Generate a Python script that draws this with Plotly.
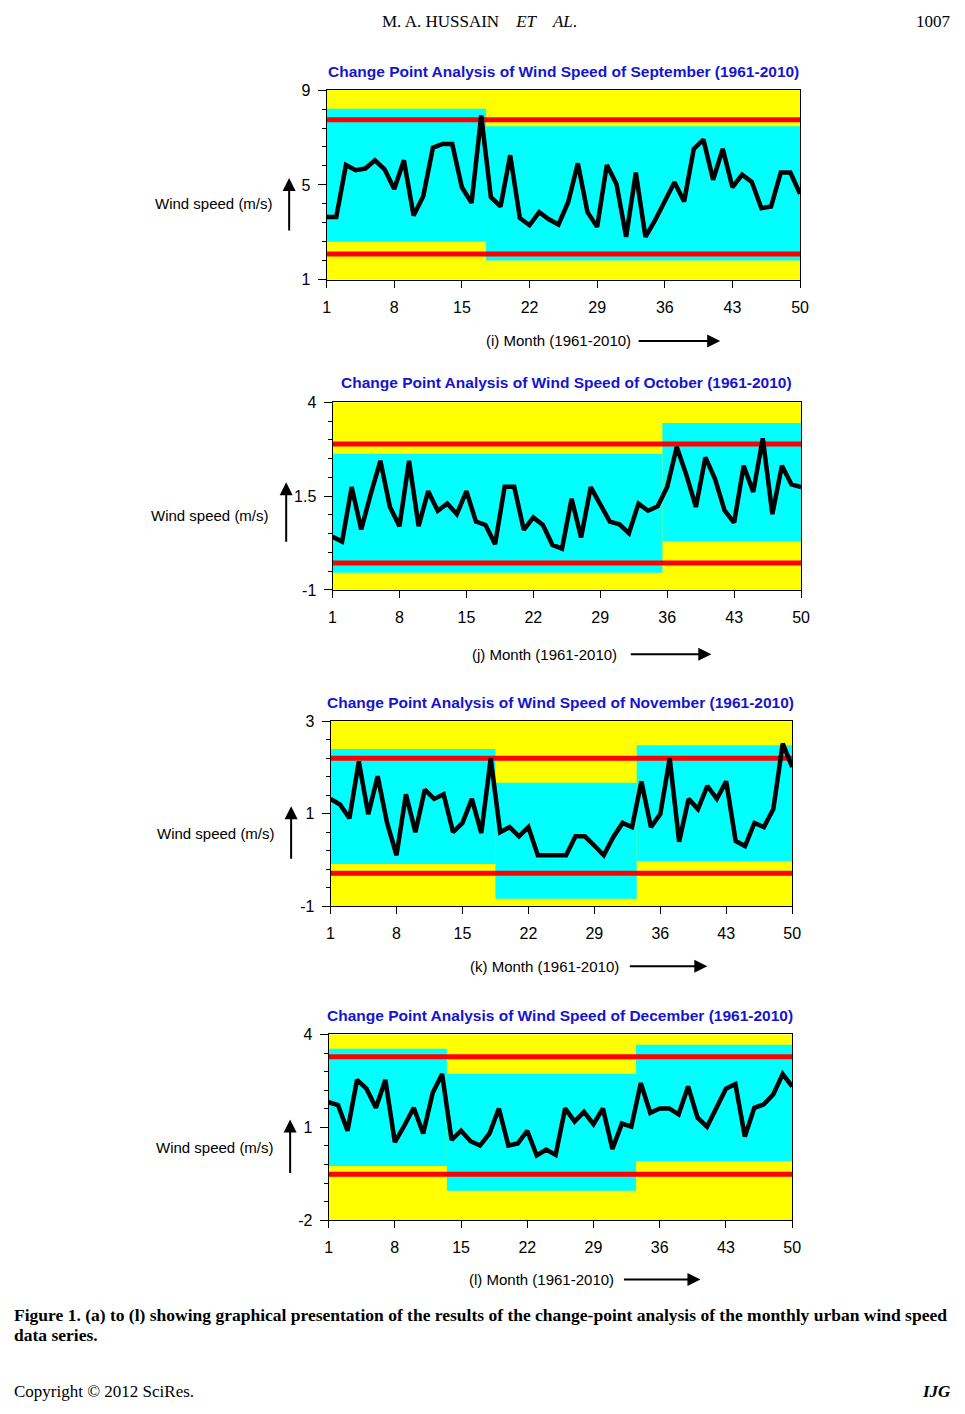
import plotly.graph_objects as go

# the page body adds an 8px margin, so the figure is drawn that much smaller
PAD = 8
W, H = 965 - 2 * PAD, 1414 - 2 * PAD

months = list(range(1, 51))
tick_vals = [1, 8, 15, 22, 29, 36, 43, 50]

# wind speed readings (m/s)
sep = [3.65, 3.65, 5.84, 5.62, 5.69, 6.04, 5.66, 4.83, 6.04, 3.71,
       4.52, 6.57, 6.73, 6.73, 4.90, 4.24, 7.93, 4.48, 4.09, 6.25,
       3.60, 3.30, 3.85, 3.55, 3.33, 4.27, 5.91, 3.85, 3.23, 5.84,
       5.04, 2.81, 5.52, 2.81, 3.51, 4.34, 5.11, 4.30, 6.52, 6.91,
       5.22, 6.52, 4.90, 5.43, 5.13, 4.02, 4.09, 5.52, 5.52, 4.62]
oct_ = [0.42, 0.29, 1.74, 0.61, 1.56, 2.44, 1.21, 0.70, 2.44, 0.70,
        1.63, 1.11, 1.30, 1.02, 1.63, 0.82, 0.73, 0.22, 1.75, 1.75,
        0.60, 0.93, 0.73, 0.20, 0.10, 1.43, 0.40, 1.74, 1.28, 0.82,
        0.75, 0.51, 1.30, 1.11, 1.23, 1.74, 2.81, 2.07, 1.21, 2.53,
        1.96, 1.12, 0.79, 2.31, 1.61, 3.04, 1.02, 2.31, 1.81, 1.74]
nov = [1.32, 1.20, 0.90, 2.13, 0.99, 1.81, 0.80, 0.10, 1.42, 0.60,
       1.52, 1.32, 1.42, 0.60, 0.80, 1.32, 0.58, 2.20, 0.60, 0.71,
       0.51, 0.71, 0.10, 0.10, 0.10, 0.10, 0.51, 0.51, 0.31, 0.10,
       0.49, 0.80, 0.71, 1.70, 0.71, 0.99, 2.20, 0.39, 1.32, 1.10,
       1.60, 1.32, 1.70, 0.41, 0.30, 0.80, 0.71, 1.10, 2.52, 2.01]
dec = [1.81, 1.72, 0.89, 2.53, 2.25, 1.63, 2.53, 0.52, 1.05, 1.63,
       0.80, 2.11, 2.72, 0.59, 0.89, 0.55, 0.41, 0.80, 1.61, 0.41,
       0.48, 0.89, 0.09, 0.28, 0.11, 1.61, 1.19, 1.50, 1.10, 1.61,
       0.30, 1.12, 1.02, 2.43, 1.47, 1.61, 1.61, 1.42, 2.32, 1.31,
       1.02, 1.65, 2.25, 2.40, 0.70, 1.63, 1.74, 2.06, 2.72, 2.32]

# change points (segment edges) and the band limits of each segment
sep_edges = [1, 17.5, 50]
sep_band_hi = [8.21, 7.47]
sep_band_lo = [2.60, 1.81]
oct_edges = [1, 35.5, 50]
oct_band_hi = [2.63, 3.45]
oct_band_lo = [-0.54, 0.29]
nov_edges = [1, 18.5, 33.5, 50]
nov_band_hi = [2.40, 1.67, 2.48]
nov_band_lo = [-0.09, -0.84, -0.03]
dec_edges = [1, 13.5, 33.5, 50]
dec_band_hi = [3.54, 2.73, 3.67]
dec_band_lo = [-0.25, -1.05, -0.10]

# control limits
sep_limits = [7.75, 2.09]
oct_limits = [2.89, -0.28]
nov_limits = [2.20, -0.29]
dec_limits = [3.28, -0.52]

month_names = ["September", "October", "November", "December"]
letters = ["i", "j", "k", "l"]
y_ranges = [[1, 9], [-1, 4], [-1, 3], [-2, 4]]
y_ticks = [[1, 5, 9], [-1, 1.5, 4], [-1, 1, 3], [-2, 1, 4]]
y_ticktext = [["1", "5", "9"], ["-1", "1.5", "4"], ["-1", "1", "3"], ["-2", "1", "4"]]
y_minor = [0.8, 0.5, 0.4, 0.6]

series = [sep, oct_, nov, dec]
edges = [sep_edges, oct_edges, nov_edges, dec_edges]
band_hi = [sep_band_hi, oct_band_hi, nov_band_hi, dec_band_hi]
band_lo = [sep_band_lo, oct_band_lo, nov_band_lo, dec_band_lo]
limits = [sep_limits, oct_limits, nov_limits, dec_limits]

# page placement of each panel, in screen pixels
panels = [
    dict(x0=327, x1=807, y0=83, y1=275, tx=567, ty=64, lx=275, ly=198,
         ax=289, ay0=226, ay1=172, mx=562, my=337, mx0=643, mx1=726),
    dict(x0=333, x1=808, y0=399, y1=589, tx=570, ty=379, lx=271, ly=514,
         ax=286, ay0=541, ay1=480, mx=548, my=654, mx0=635, mx1=717),
    dict(x0=331, x1=799, y0=722, y1=909, tx=564, ty=703, lx=277, ly=836,
         ax=291, ay0=862, ay1=808, mx=548, my=970, mx0=634, mx1=713),
    dict(x0=329, x1=799, y0=1039, y1=1227, tx=564, ty=1020, lx=276, ly=1153,
         ax=290, ay0=1180, ay1=1125, mx=545, my=1287, mx0=628, mx1=706),
]

def px(x):
    return (x - PAD) / W

def py(y):
    return 1 - (y - PAD) / H

sans = "Liberation Sans, Arial"
serif = "Liberation Serif, Times New Roman"

fig = go.Figure()
shapes = []
annotations = []
layout_axes = {}

for k in range(4):
    p = panels[k]
    n = "" if k == 0 else str(k + 1)
    xr, yr = "x" + n, "y" + n

    for s in range(len(edges[k]) - 1):
        shapes.append(dict(type="rect", xref=xr, yref=yr, layer="below",
                           x0=edges[k][s], x1=edges[k][s + 1],
                           y0=band_lo[k][s], y1=band_hi[k][s],
                           fillcolor="#00FFFF", line=dict(width=0)))

    for lim in limits[k]:
        fig.add_trace(go.Scatter(x=[months[0], months[-1]], y=[lim, lim], mode="lines",
                                 line=dict(color="#FF0000", width=5),
                                 xaxis=xr, yaxis=yr, showlegend=False, hoverinfo="skip"))
    fig.add_trace(go.Scatter(x=months, y=series[k], mode="lines",
                             line=dict(color="black", width=4.5),
                             xaxis=xr, yaxis=yr, showlegend=False))

    layout_axes["xaxis" + n] = dict(
        domain=[px(p["x0"]), px(p["x1"])], anchor=yr, range=[1, 50],
        tickvals=tick_vals, ticks="outside", ticklen=7, tickcolor="black",
        showline=True, linecolor="black", linewidth=1, mirror=True,
        showgrid=False, zeroline=False, ticklabelstandoff=6,
        tickfont=dict(family=sans, size=16, color="black"))
    layout_axes["yaxis" + n] = dict(
        domain=[py(p["y1"]), py(p["y0"])], anchor=xr, range=y_ranges[k],
        tickvals=y_ticks[k], ticktext=y_ticktext[k], ticks="outside", ticklen=8,
        tickcolor="black", showline=True, linecolor="black", linewidth=1,
        mirror=True, showgrid=False, zeroline=False, ticklabelstandoff=4,
        minor=dict(dtick=y_minor[k], tick0=y_ranges[k][0], ticks="outside",
                   ticklen=4, tickcolor="black", showgrid=False),
        tickfont=dict(family=sans, size=16, color="black"))

    annotations.append(dict(
        text="<b>Change Point Analysis of Wind Speed of %s (1961-2010)</b>" % month_names[k],
        x=px(p["tx"]), y=py(p["ty"]), xref="paper", yref="paper", showarrow=False,
        xanchor="center", yanchor="middle",
        font=dict(family=sans, size=15.5, color="#1515D0")))
    annotations.append(dict(
        text="Wind speed (m/s)", x=px(p["lx"]), y=py(p["ly"]), xref="paper", yref="paper",
        showarrow=False, xanchor="right", yanchor="middle",
        font=dict(family=sans, size=15, color="black")))
    annotations.append(dict(
        text="", x=px(p["ax"]), y=py(p["ay1"]), xref="paper", yref="paper",
        showarrow=True, ax=0, ay=p["ay0"] - p["ay1"], arrowhead=2, arrowsize=1.3,
        arrowwidth=2, arrowcolor="black"))
    annotations.append(dict(
        text="(%s) Month (1961-2010)" % letters[k], x=px(p["mx"]), y=py(p["my"]),
        xref="paper", yref="paper", showarrow=False, xanchor="center", yanchor="middle",
        font=dict(family=sans, size=15, color="black")))
    annotations.append(dict(
        text="", x=px(p["mx1"]), y=py(p["my"]), xref="paper", yref="paper",
        showarrow=True, ax=p["mx0"] - p["mx1"], ay=0, arrowhead=2, arrowsize=1.3,
        arrowwidth=2, arrowcolor="black"))

annotations += [
    dict(text="M. A. HUSSAIN&nbsp;&nbsp;&nbsp;&nbsp;<i>ET</i>&nbsp;&nbsp;&nbsp;&nbsp;<i>AL</i>.",
         x=px(482), y=py(14), xref="paper", yref="paper", showarrow=False,
         xanchor="center", yanchor="middle", font=dict(family=serif, size=17, color="black")),
    dict(text="1007", x=px(962), y=py(14), xref="paper", yref="paper", showarrow=False,
         xanchor="right", yanchor="middle", font=dict(family=serif, size=17, color="black")),
    dict(text="<b>Figure 1. (a) to (l) showing graphical presentation of the results of the "
              "change-point analysis of the monthly urban wind speed</b>",
         x=px(PAD), y=py(1323), xref="paper", yref="paper", showarrow=False,
         xanchor="left", yanchor="middle", font=dict(family=serif, size=17.5, color="black")),
    dict(text="<b>data series.</b>", x=px(PAD), y=py(1343), xref="paper", yref="paper",
         showarrow=False, xanchor="left", yanchor="middle",
         font=dict(family=serif, size=17.5, color="black")),
    dict(text="Copyright © 2012 SciRes.", x=px(PAD), y=py(1400), xref="paper", yref="paper",
         showarrow=False, xanchor="left", yanchor="middle",
         font=dict(family=serif, size=17, color="black")),
    dict(text="<b><i>IJG</i></b>", x=px(962), y=py(1400), xref="paper", yref="paper",
         showarrow=False, xanchor="right", yanchor="middle",
         font=dict(family=serif, size=17, color="black")),
]

fig.update_layout(
    width=W, height=H, margin=dict(l=0, r=0, t=0, b=0),
    paper_bgcolor="white", plot_bgcolor="#FFFF00",
    shapes=shapes, annotations=annotations, **layout_axes)

fig.write_html("out.html")
